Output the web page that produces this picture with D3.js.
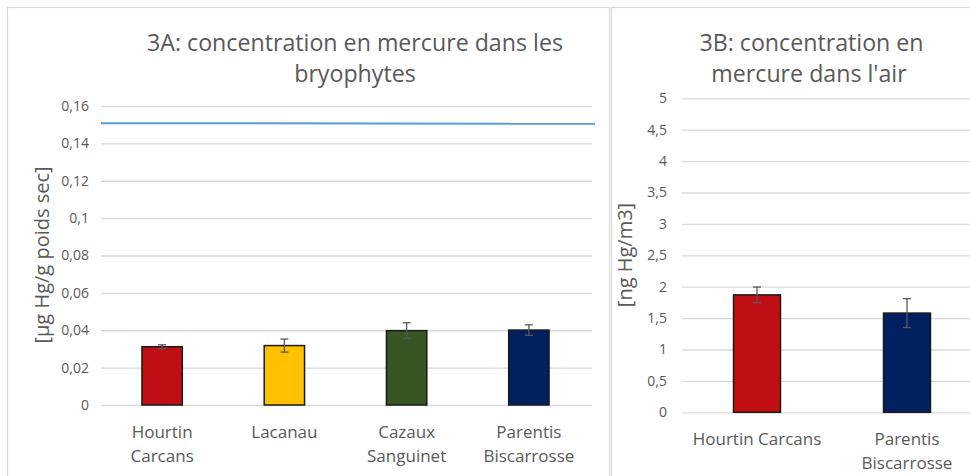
<!DOCTYPE html>
<html>
<head>
<meta charset="utf-8">
<script src="https://cdn.jsdelivr.net/npm/d3@7"></script>
<style>
  html, body { margin: 0; padding: 0; background: #fff; }
  svg { display: block; font-family: "Open Sans", sans-serif; }
</style>
</head>
<body>
<div id="chart"></div>
<script>
// Figure 3A: mercury in bryophytes (µg Hg/g dry weight)
var sitesA = ['Hourtin Carcans', 'Lacanau', 'Cazaux Sanguinet', 'Parentis Biscarrosse'];
var labelsA = [['Hourtin', 'Carcans'], ['Lacanau'], ['Cazaux', 'Sanguinet'], ['Parentis', 'Biscarrosse']];
var valuesA = [0.0312, 0.0318, 0.0398, 0.0401];
var errorsA = [0.0010, 0.0035, 0.0042, 0.0028];
var colorsA = ['#C00F14', '#FFC000', '#375623', '#002060'];
var ticksA = [0, 0.02, 0.04, 0.06, 0.08, 0.1, 0.12, 0.14, 0.16];
var thresholdA = [0.1508, 0.1505];

// Figure 3B: mercury in air (ng Hg/m3)
var sitesB = ['Hourtin Carcans', 'Parentis Biscarrosse'];
var labelsB = [['Hourtin Carcans'], ['Parentis', 'Biscarrosse']];
var valuesB = [1.87, 1.58];
var errorsB = [0.125, 0.23];
var colorsB = ['#C00F14', '#002060'];
var ticksB = [0, 0.5, 1, 1.5, 2, 2.5, 3, 3.5, 4, 4.5, 5];

var width = 970,
    height = 476,
    textColor = '#595959',
    gridColor = '#d9d9d9';

var svg = d3.select('#chart').append('svg')
    .attr('width', width)
    .attr('height', height);

svg.append('rect').attr('width', width).attr('height', height).attr('fill', '#fff');

function fmt(v) {
    return String(v).replace('.', ',');
}

function drawPanel(opt) {
    // panel frame
    svg.append('rect')
        .attr('x', opt.frame[0] + 0.5)
        .attr('y', opt.frame[1] + 0.5)
        .attr('width', opt.frame[2])
        .attr('height', opt.frame[3])
        .attr('fill', '#fff')
        .attr('stroke', gridColor)
        .attr('stroke-width', 1.2);

    var x = d3.scaleBand()
        .domain(opt.sites)
        .range([opt.left, opt.right])
        .paddingInner(opt.pad)
        .paddingOuter(opt.pad / 2);

    var y = d3.scaleLinear()
        .domain([0, opt.ticks[opt.ticks.length - 1]])
        .range([opt.bottom, opt.top]);

    var g = svg.append('g');

    // y axis with gridlines
    var yAxis = d3.axisLeft(y)
        .tickValues(opt.ticks)
        .tickFormat(fmt)
        .tickSizeInner(-(opt.gridRight - opt.left))
        .tickSizeOuter(0)
        .tickPadding(opt.tickPad);

    var ax = g.append('g')
        .attr('transform', 'translate(' + opt.left + ',0)')
        .call(yAxis);
    ax.select('.domain').remove();
    ax.selectAll('.tick line').attr('stroke', gridColor).attr('stroke-width', 1.3);
    ax.selectAll('.tick text')
        .attr('fill', textColor)
        .style('font-size', '14px')
        .style('font-family', '"Open Sans", sans-serif');

    // threshold line
    if (opt.threshold) {
        var line = d3.line()
            .x(function(d, i) { return opt.left + i * (opt.lineRight - opt.left); })
            .y(function(d) { return y(d); });
        g.append('path')
            .datum(opt.threshold)
            .attr('d', line)
            .attr('fill', 'none')
            .attr('stroke', '#5B9BD5')
            .attr('stroke-width', 2);
    }

    // bars
    g.selectAll('rect.bar').data(opt.values).enter()
        .append('rect')
        .attr('class', 'bar')
        .attr('x', function(d, i) { return x(opt.sites[i]); })
        .attr('y', function(d) { return y(d); })
        .attr('width', x.bandwidth())
        .attr('height', function(d) { return y(0) - y(d); })
        .attr('fill', function(d, i) { return opt.colors[i]; })
        .attr('stroke', '#1a1a1a')
        .attr('stroke-width', 1.5);

    // error bars
    var capW = 4;
    opt.values.forEach(function(v, i) {
        var cx = x(opt.sites[i]) + x.bandwidth() / 2,
            hi = y(v + opt.errors[i]),
            lo = y(v - opt.errors[i]);
        var eg = g.append('g').attr('stroke', '#595959').attr('stroke-width', 1.3);
        eg.append('line').attr('x1', cx).attr('x2', cx).attr('y1', hi).attr('y2', lo);
        eg.append('line').attr('x1', cx - capW).attr('x2', cx + capW).attr('y1', hi).attr('y2', hi);
        eg.append('line').attr('x1', cx - capW).attr('x2', cx + capW).attr('y1', lo).attr('y2', lo);
    });

    // category labels
    opt.labels.forEach(function(lines, i) {
        var cx = x(opt.sites[i]) + x.bandwidth() / 2;
        var t = g.append('text')
            .attr('x', cx)
            .attr('y', opt.bottom + 33)
            .attr('text-anchor', 'middle')
            .attr('fill', textColor)
            .style('font-size', '17px');
        lines.forEach(function(s, j) {
            t.append('tspan').attr('x', cx).attr('dy', j === 0 ? 0 : 23.5).text(s);
        });
    });

    // titles
    opt.title.forEach(function(s, j) {
        g.append('text')
            .attr('x', opt.titleX[j])
            .attr('y', 51 + j * 30.5)
            .attr('text-anchor', 'middle')
            .attr('fill', textColor)
            .style('font-size', '23.2px')
            .text(s);
    });

    // y axis title
    g.append('text')
        .attr('transform', 'translate(' + opt.yTitleX + ',' + 255 + ') rotate(-90)')
        .attr('text-anchor', 'middle')
        .attr('fill', textColor)
        .style('font-size', '20px')
        .text(opt.yTitle);
}

drawPanel({
    frame: [7, 7, 602, 480],
    sites: sitesA, labels: labelsA, values: valuesA, errors: errorsA, colors: colorsA,
    ticks: ticksA, threshold: thresholdA,
    left: 101, right: 590, gridRight: 592, lineRight: 595,
    top: 106, bottom: 405, pad: 0.67, tickPad: 12,
    title: ['3A: concentration en mercure dans les', 'bryophytes'],
    titleX: [355, 355],
    yTitle: '[µg Hg/g poids sec]', yTitleX: 49
});

drawPanel({
    frame: [611, 7, 370, 480],
    sites: sitesB, labels: labelsB, values: valuesB, errors: errorsB, colors: colorsB,
    ticks: ticksB, threshold: null,
    left: 682, right: 982, gridRight: 980, lineRight: 980,
    top: 98.3, bottom: 412.3, pad: 0.687, tickPad: 15,
    title: ['3B: concentration en', 'mercure dans l\'air'],
    titleX: [811.5, 809],
    yTitle: '[ng Hg/m3]', yTitleX: 632
});
</script>
</body>
</html>
